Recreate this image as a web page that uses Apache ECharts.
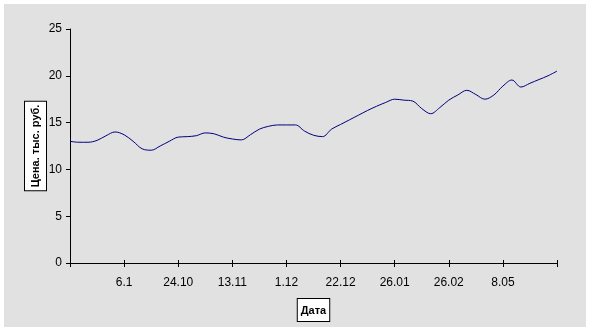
<!DOCTYPE html>
<html>
<head>
<meta charset="utf-8">
<script src="https://cdn.jsdelivr.net/npm/echarts@6/dist/echarts.min.js"></script>
<style>
html,body{margin:0;padding:0;background:#fff;}
#c{width:590px;height:331px;}
</style>
</head>
<body>
<div id="c"></div>
<script>
// Price values (thousand rubles), one per trading point
var values = [13.0, 12.9, 12.9, 13.1, 13.6, 14.0, 13.7, 13.0, 12.2, 12.05,
  12.5, 13.0, 13.45, 13.5, 13.6, 13.9, 13.8, 13.45, 13.25, 13.15,
  13.7, 14.3, 14.6, 14.75, 14.75, 14.75, 14.1, 13.65, 13.5, 14.3,
  14.8, 15.3, 15.8, 16.3, 16.75, 17.15, 17.5, 17.4, 17.3, 16.5,
  15.95, 16.6, 17.4, 17.95, 18.45, 18.0, 17.5, 17.95, 18.9, 19.55,
  18.8, 19.2, 19.6, 20.0, 20.5];
// Date tick labels, shown every 6th point
var tickLabels = ["6.1", "24.10", "13.11", "1.12", "22.12", "26.01", "26.02", "8.05"];
var tickStep = 6;
var yTitle = "Цена. тыс. руб.";
var xTitle = "Дата";

var categories = values.map(function (v, i) {
  var k = i / tickStep - 1;
  return (i % tickStep === 0 && k >= 0 && k < tickLabels.length) ? tickLabels[k] : "";
});

var chart = echarts.init(document.getElementById('c'), null, {renderer: 'canvas'});
var font = 'Liberation Sans, Arial, sans-serif';
var tickInterval = function (i) { return i % tickStep === 0; };
chart.setOption({
  animation: false,
  backgroundColor: '#ffffff',
  graphic: [{
    type: 'rect', z: -10, silent: true,
    shape: {x: 4, y: 4, width: 582, height: 323},
    style: {fill: '#e1e1e1'}
  }],
  grid: {left: 70, right: 33, top: 29, bottom: 68, containLabel: false, outerBoundsMode: 'none'},
  xAxis: [{
    type: 'category', data: categories, boundaryGap: false,
    name: xTitle, nameLocation: 'middle', nameGap: 36, nameMoveOverlap: false,
    nameTextStyle: {fontFamily: font, fontWeight: 'bold', fontSize: 11, color: '#000',
      backgroundColor: '#fff', borderColor: '#000', borderWidth: 1, padding: [6, 3, 5, 3]},
    axisLine: {lineStyle: {color: '#000', width: 1}},
    axisTick: {show: true, interval: tickInterval, length: 4, lineStyle: {color: '#000'}},
    axisLabel: {interval: tickInterval, margin: 14, fontFamily: font, fontSize: 12, color: '#000'},
    splitLine: {show: false}
  }, {
    type: 'category', data: categories, boundaryGap: false, position: 'bottom',
    axisLine: {show: false},
    axisTick: {show: true, inside: true, interval: tickInterval, length: 3, lineStyle: {color: '#000'}},
    axisLabel: {show: false},
    splitLine: {show: false}
  }],
  yAxis: {
    type: 'value', min: 0, max: 25, interval: 5,
    name: yTitle, nameLocation: 'middle', nameRotate: 90, nameGap: 24, nameMoveOverlap: false,
    nameTextStyle: {fontFamily: font, fontWeight: 'bold', fontSize: 11, color: '#000',
      backgroundColor: '#fff', borderColor: '#000', borderWidth: 1, padding: [5, 3, 5, 3]},
    axisLine: {show: true, lineStyle: {color: '#000', width: 1}},
    axisTick: {show: true, length: 4, lineStyle: {color: '#000'}},
    axisLabel: {margin: 8, fontFamily: font, fontSize: 12, color: '#000'},
    splitLine: {show: false}
  },
  series: [{
    type: 'line', data: values, xAxisIndex: 0,
    smooth: 0.35, symbol: 'none',
    lineStyle: {color: '#000080', width: 1}
  }]
});
</script>
</body>
</html>
